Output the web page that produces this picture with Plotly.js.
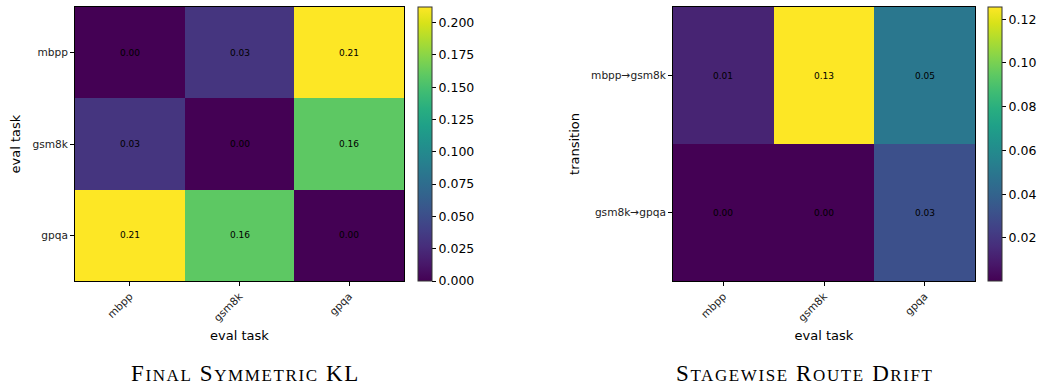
<!DOCTYPE html>
<html>
<head>
<meta charset="utf-8">
<script src="https://cdn.plot.ly/plotly-3.0.1.min.js"></script>
<style>html,body{margin:0;padding:0;background:#fff;}#chart{width:1046px;height:389px;}</style>
</head>
<body>
<div id="chart"></div>
<script>
// Left panel: final symmetric KL
const klTasks = ["mbpp", "gsm8k", "gpqa"];
const klValues = [
  [0.000, 0.032, 0.212],
  [0.032, 0.000, 0.159],
  [0.212, 0.159, 0.000]
];
const klTicks = [0, 0.025, 0.05, 0.075, 0.1, 0.125, 0.15, 0.175, 0.2];

// Right panel: stagewise route drift
const driftTasks = ["mbpp", "gsm8k", "gpqa"];
const transitions = ["mbpp→gsm8k", "gsm8k→gpqa"];
const driftValues = [
  [0.0125, 0.1256, 0.050],
  [0.0003, 0.0004, 0.031]
];
const driftTicks = [0.02, 0.04, 0.06, 0.08, 0.10, 0.12];

const titles = ["Final Symmetric KL", "Stagewise Route Drift"];

const W = 1046, H = 389;
const fx = v => v / W;
const fy = v => (H - v) / H;

const font = "DejaVu Sans, sans-serif";
const serif = "Liberation Serif, Times New Roman, serif";

// small-caps: capitals at full size, lower-case letters as smaller capitals
function smallCaps(s, big, small, spacing) {
  let out = "", buf = "";
  const flush = () => { if (buf) { out += '<span style="font-size:' + small + 'px;letter-spacing:' + spacing + 'px">' + buf + '</span>'; buf = ""; } };
  for (const ch of s) {
    if (ch !== ch.toUpperCase()) { buf += ch.toUpperCase(); }
    else { flush(); out += '<span style="font-size:' + big + 'px;letter-spacing:' + spacing + 'px">' + ch + '</span>'; }
  }
  flush();
  return out;
}

const traces = [
  {
    type: "heatmap", x: klTasks, y: klTasks, z: klValues,
    colorscale: "Viridis", zmin: 0, zmax: Math.max(...klValues.flat()),
    xaxis: "x", yaxis: "y",
    texttemplate: "%{z:.2f}", textfont: {size: 9, color: "#000", family: font},
    hoverinfo: "x+y+z",
    colorbar: {
      x: fx(418), xanchor: "left", xpad: 0, y: fy(281), yanchor: "bottom", ypad: 0,
      len: (281 - 7) / H, lenmode: "fraction", thickness: 14, thicknessmode: "pixels",
      outlinewidth: 1, outlinecolor: "#333",
      tickvals: klTicks, tickformat: ".3f", ticks: "outside", ticklen: 4, tickcolor: "#000",
      tickfont: {size: 12.5, family: font, color: "#000"}
    }
  },
  {
    type: "heatmap", x: driftTasks, y: transitions, z: driftValues,
    colorscale: "Viridis",
    xaxis: "x2", yaxis: "y2",
    texttemplate: "%{z:.2f}", textfont: {size: 9, color: "#000", family: font},
    hoverinfo: "x+y+z",
    colorbar: {
      x: fx(988), xanchor: "left", xpad: 0, y: fy(281), yanchor: "bottom", ypad: 0,
      len: (281 - 7) / H, lenmode: "fraction", thickness: 14, thicknessmode: "pixels",
      outlinewidth: 1, outlinecolor: "#333",
      tickvals: driftTicks, tickformat: ".2f", ticks: "outside", ticklen: 4, tickcolor: "#000",
      tickfont: {size: 12.5, family: font, color: "#000"}
    }
  }
];

const axisCommon = {
  showline: true, mirror: true, linecolor: "#000", linewidth: 1,
  ticks: "outside", ticklen: 4, tickcolor: "#000",
  tickfont: {size: 10.6, family: font, color: "#222"},
  showgrid: false, zeroline: false, fixedrange: true
};

const layout = {
  width: W, height: H,
  margin: {l: 0, r: 0, t: 0, b: 0},
  paper_bgcolor: "#fff", plot_bgcolor: "#fff",
  showlegend: false,
  xaxis: Object.assign({}, axisCommon, {
    domain: [fx(75), fx(404)], anchor: "y", tickangle: -45,
    title: {text: "eval task", font: {size: 13, family: font, color: "#000"}, standoff: 8}
  }),
  yaxis: Object.assign({}, axisCommon, {
    domain: [fy(281), fy(7)], anchor: "x", autorange: "reversed",
    title: {text: "eval task", font: {size: 13, family: font, color: "#000"}, standoff: 8}
  }),
  xaxis2: Object.assign({}, axisCommon, {
    domain: [fx(673), fx(975)], anchor: "y2", tickangle: -45,
    title: {text: "eval task", font: {size: 13, family: font, color: "#000"}, standoff: 8}
  }),
  yaxis2: Object.assign({}, axisCommon, {
    domain: [fy(281), fy(7)], anchor: "x2", autorange: "reversed",
    title: {text: "transition", font: {size: 13, family: font, color: "#000"}, standoff: 8}
  }),
  annotations: [
    {text: smallCaps(titles[0], 23, 17, 1.6), xref: "paper", yref: "paper", x: fx(245), y: fy(388), xanchor: "center", yanchor: "bottom",
     showarrow: false, font: {family: serif, size: 23, color: "#000"}},
    {text: smallCaps(titles[1], 23, 17, 1.6), xref: "paper", yref: "paper", x: fx(805), y: fy(388), xanchor: "center", yanchor: "bottom",
     showarrow: false, font: {family: serif, size: 23, color: "#000"}}
  ]
};

Plotly.newPlot("chart", traces, layout, {displayModeBar: false, staticPlot: true});
</script>
</body>
</html>
